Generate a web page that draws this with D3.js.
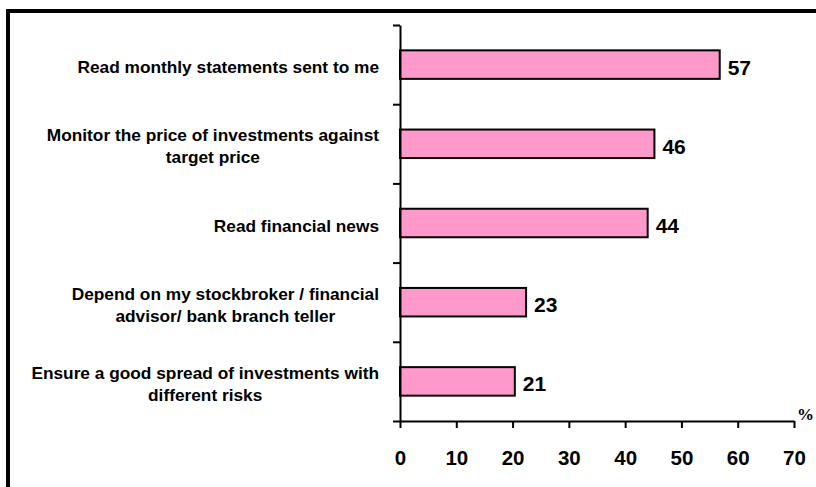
<!DOCTYPE html>
<html>
<head>
<meta charset="utf-8">
<script src="https://cdn.jsdelivr.net/npm/d3@7"></script>
<style>
  body { margin: 0; background: #fff; }
  svg { display: block; font-family: "Liberation Sans", Arial, sans-serif; }
</style>
</head>
<body>
<svg width="816" height="487"></svg>
<script>
// Categories (top to bottom), bar lengths, printed labels
const categories = [
  "Read monthly statements sent to me",
  "Monitor the price of investments against\ntarget price",
  "Read financial news",
  "Depend on my stockbroker / financial\nadvisor/ bank branch teller",
  "Ensure a good spread of investments with\ndifferent risks"
];
const values = [56.8, 45.2, 44.0, 22.4, 20.4];
const valueLabels = ["57", "46", "44", "23", "21"];
const xTicks = [0, 10, 20, 30, 40, 50, 60, 70];

const svg = d3.select("svg");

// Frame round the chart (runs off right and bottom edge)
svg.append("rect")
  .attr("x", 8).attr("y", 11)
  .attr("width", 900).attr("height", 600)
  .attr("fill", "none").attr("stroke", "#000").attr("stroke-width", 4);

const xScale = d3.scaleLinear().domain([0, 70]).range([400, 794]);

const yScale = d3.scaleBand()
  .domain(categories)
  .range([25, 421])
  .paddingInner(0.64)
  .paddingOuter(0.32);

// Edges of the category bands, for the left axis ticks
const yEdge = d3.scaleLinear().domain([0, categories.length]).range([25, 421]);

// Bars
svg.selectAll(".bar")
  .data(categories)
  .join("rect")
  .classed("bar", true)
  .attr("x", xScale(0))
  .attr("y", d => yScale(d))
  .attr("width", (d, i) => xScale(values[i]) - xScale(0))
  .attr("height", yScale.bandwidth())
  .attr("fill", "#ff99cc")
  .attr("stroke", "#000")
  .attr("stroke-width", 2);

// Value labels
svg.selectAll(".val")
  .data(categories)
  .join("text")
  .classed("val", true)
  .attr("x", (d, i) => xScale(values[i]) + 8)
  .attr("y", d => yScale(d) + yScale.bandwidth() / 2 + 2.5)
  .attr("dominant-baseline", "central")
  .attr("font-size", 21)
  .attr("font-weight", "bold")
  .text((d, i) => valueLabels[i]);

// Left axis: ticks at band edges, no labels
const yAxis = svg.append("g")
  .attr("transform", "translate(400,0)")
  .call(d3.axisLeft(yEdge).ticks(categories.length).tickSize(7).tickSizeOuter(0).tickFormat(""));
yAxis.selectAll("path, line").attr("stroke", "#000").attr("stroke-width", 2);

// Bottom axis
const xAxis = svg.append("g")
  .attr("transform", "translate(0,421)")
  .call(d3.axisBottom(xScale).tickValues(xTicks).tickSize(7).tickSizeOuter(0).tickPadding(22));
xAxis.selectAll("path, line").attr("stroke", "#000").attr("stroke-width", 2);
xAxis.selectAll("text")
  .attr("font-family", "'Liberation Sans', Arial, sans-serif")
  .attr("font-size", 20.5)
  .attr("font-weight", "bold")
  .attr("fill", "#000");

// Category labels, lines centred, block right-aligned next to axis
const labelRight = 379;
categories.forEach(cat => {
  const lines = cat.split("\n");
  const cy = yScale(cat) + yScale.bandwidth() / 2 + 2.5;
  const g = svg.append("g");
  const t = g.selectAll("text")
    .data(lines)
    .join("text")
    .attr("text-anchor", "middle")
    .attr("dominant-baseline", "central")
    .attr("font-size", 17.3)
    .attr("font-weight", "bold")
    .attr("y", (d, i) => cy + (i - (lines.length - 1) / 2) * 22)
    .text(d => d);
  const w = d3.max(t.nodes(), n => n.getComputedTextLength());
  t.attr("x", labelRight - w / 2);
});

// Unit mark
svg.append("text")
  .attr("x", 797).attr("y", 420)
  .attr("font-family", "'Liberation Serif', 'Times New Roman', serif")
  .attr("font-size", 17)
  .attr("font-weight", "bold")
  .text("%");
</script>
</body>
</html>
